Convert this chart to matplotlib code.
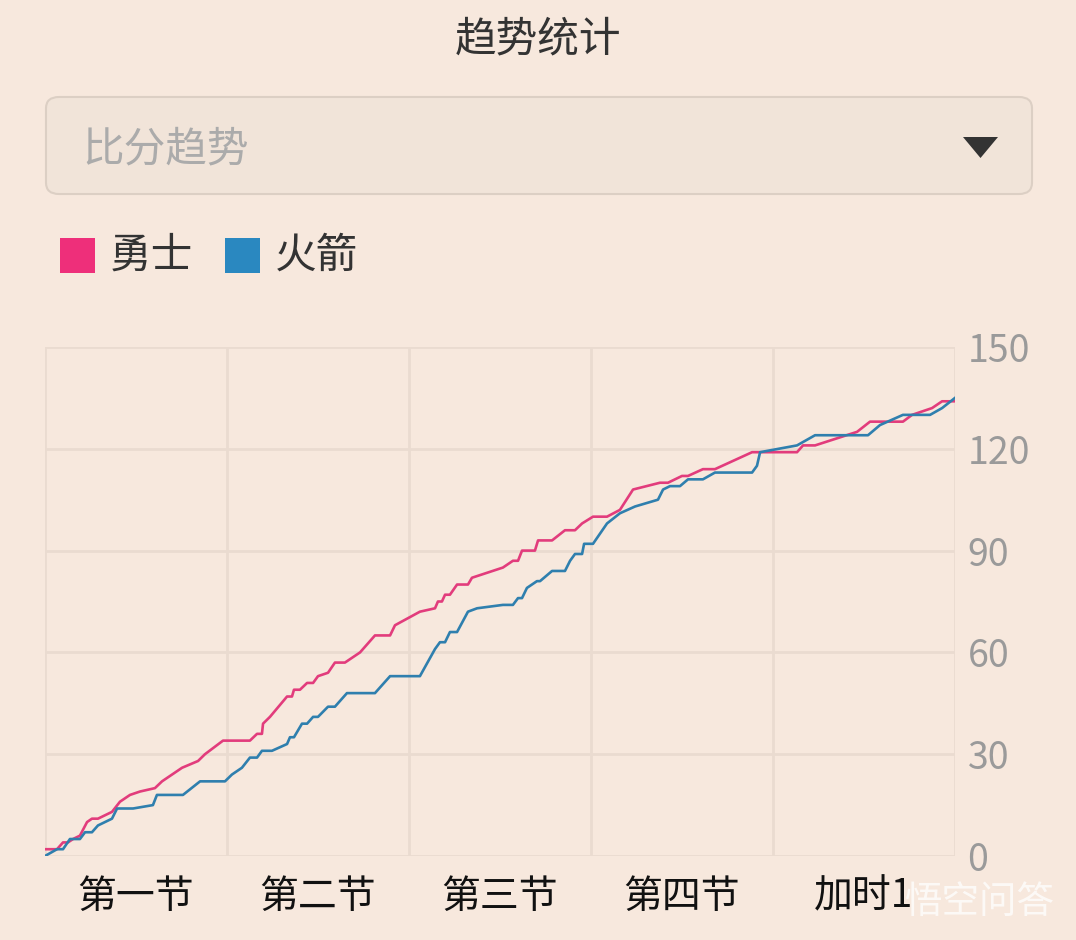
import matplotlib.pyplot as plt
from matplotlib.patches import FancyBboxPatch, Rectangle, Polygon

plt.rcParams['font.family'] = ['Noto Sans CJK SC', 'DejaVu Sans']

# game progress in period units (0..5), score
warriors_x = [0, 0.066, 0.099, 0.126, 0.154, 0.192, 0.231, 0.258, 0.291, 0.368, 0.412, 0.467,
              0.522, 0.604, 0.643, 0.698, 0.753, 0.841, 0.879, 0.978, 1.126, 1.165, 1.192,
              1.198, 1.236, 1.330, 1.357, 1.368, 1.401, 1.440, 1.473, 1.500, 1.555, 1.593,
              1.648, 1.731, 1.813, 1.896, 1.923, 2.060, 2.143, 2.159, 2.181, 2.198, 2.225,
              2.264, 2.324, 2.346, 2.516, 2.571, 2.599, 2.621, 2.692, 2.709, 2.786, 2.857,
              2.912, 2.951, 3.011, 3.088, 3.159, 3.231, 3.379, 3.423, 3.500, 3.533, 3.615,
              3.681, 3.885, 4.132, 4.165, 4.231, 4.462, 4.533, 4.714, 4.764, 4.874, 4.929, 5.0]
warriors_y = [2, 2, 4, 4, 5, 6, 10, 11, 11, 13, 16, 18,
              19, 20, 22, 24, 26, 28, 30, 34, 34, 36, 36,
              39, 41, 47, 47, 49, 49, 51, 51, 53, 54, 57,
              57, 60, 65, 65, 68, 72, 73, 75, 75, 77, 77,
              80, 80, 82, 85, 87, 87, 90, 90, 93, 93, 96,
              96, 98, 100, 100, 102, 108, 110, 110, 112, 112, 114,
              114, 119, 119, 121, 121, 125, 128, 128, 130, 132, 134, 134]

rockets_x = [0, 0.066, 0.099, 0.137, 0.192, 0.220, 0.258, 0.291, 0.368, 0.396, 0.484, 0.593,
             0.615, 0.758, 0.852, 0.989, 1.027, 1.082, 1.126, 1.165, 1.192, 1.247, 1.330,
             1.346, 1.368, 1.412, 1.440, 1.473, 1.500, 1.555, 1.593, 1.659, 1.813, 1.896,
             2.060, 2.143, 2.170, 2.198, 2.225, 2.264, 2.324, 2.374, 2.516, 2.571, 2.599,
             2.621, 2.648, 2.703, 2.720, 2.786, 2.857, 2.885, 2.912, 2.951, 2.962, 3.011,
             3.088, 3.159, 3.242, 3.368, 3.396, 3.434, 3.489, 3.533, 3.615, 3.681, 3.885,
             3.912, 3.929, 4.132, 4.231, 4.522, 4.588, 4.714, 4.863, 4.929, 5.0]
rockets_y = [0, 2, 2, 5, 5, 7, 7, 9, 11, 14, 14, 15,
             18, 18, 22, 22, 24, 26, 29, 29, 31, 31, 33,
             35, 35, 39, 39, 41, 41, 44, 44, 48, 48, 53,
             53, 61, 63, 63, 66, 66, 72, 73, 74, 74, 76,
             76, 79, 81, 81, 84, 84, 87, 89, 89, 92, 92,
             98, 101, 103, 105, 108, 109, 109, 111, 111, 113, 113,
             115, 119, 121, 124, 124, 127, 130, 130, 132, 135]

periods = ['第一节', '第二节', '第三节', '第四节', '加时1']
y_ticks = [0, 30, 60, 90, 120, 150]
teams = ['勇士', '火箭']

bg = '#f7e8dd'
pink = '#e23c7c'
blue = '#2f7fae'
grid_c = '#eadbd0'

W, H = 1076, 940
fig = plt.figure(figsize=(W / 100, H / 100), dpi=100, facecolor=bg)


def fx(px):
    return px / W


def fy(py):
    return 1 - py / H


# title
fig.text(fx(538), fy(40), '趋势统计', ha='center', va='center', fontsize=30,
         color='#333333', fontweight='light')

# dropdown box
box = FancyBboxPatch((fx(46), fy(194)), fx(986), 97 / H,
                     boxstyle='round,pad=0,rounding_size=0.012',
                     transform=fig.transFigure, facecolor='#f1e4d9', edgecolor='#dccfc4',
                     linewidth=1.5)
fig.patches.append(box)
fig.text(fx(82), fy(150), '比分趋势', ha='left', va='center', fontsize=30,
         color='#ababab', fontweight='light')
tri = Polygon([(fx(963), fy(137)), (fx(998), fy(137)), (fx(980.5), fy(158))],
              closed=True, transform=fig.transFigure, facecolor='#333333', edgecolor='none')
fig.patches.append(tri)

# legend
for sq_x, txt_x, color, name in [(60, 110, '#ee2f7a', teams[0]), (225, 275, '#2a88c0', teams[1])]:
    fig.patches.append(Rectangle((fx(sq_x), fy(273)), 35 / W, 35 / H,
                                 transform=fig.transFigure, facecolor=color, edgecolor='none'))
    fig.text(fx(txt_x), fy(256), name, ha='left', va='center', fontsize=30,
             color='#333333', fontweight='light')

# chart
ax = fig.add_axes([fx(45), fy(856), fx(910), 509 / H])
ax.set_facecolor(bg)
ax.plot(warriors_x, warriors_y, color=pink, lw=1.9, zorder=3)
ax.plot(rockets_x, rockets_y, color=blue, lw=1.9, zorder=3)

ax.set_xlim(0, 5)
ax.set_ylim(0, 150)
ax.set_xticks(range(0, 6))
ax.set_xticklabels([])
ax.set_xticks([i + 0.5 for i in range(5)], minor=True)
ax.set_xticklabels(periods, minor=True, fontsize=28, color='#111111', fontweight='light')
ax.set_yticks(y_ticks)
ax.yaxis.tick_right()
ax.set_yticklabels([str(v) for v in y_ticks], fontsize=27, color='#9a9a9a',
                   fontweight='light')
ax.tick_params(axis='both', which='both', length=0)
ax.tick_params(axis='y', pad=9)
ax.tick_params(axis='x', which='minor', pad=15)
ax.grid(True, which='major', color=grid_c, lw=2)
for s in ax.spines.values():
    s.set_visible(False)

# watermark
fig.text(fx(1055), fy(902), '悟空问答', ha='right', va='center', fontsize=27,
         color='white', alpha=0.75, fontweight='light')

fig.savefig('out.png', dpi=100, facecolor=bg)
